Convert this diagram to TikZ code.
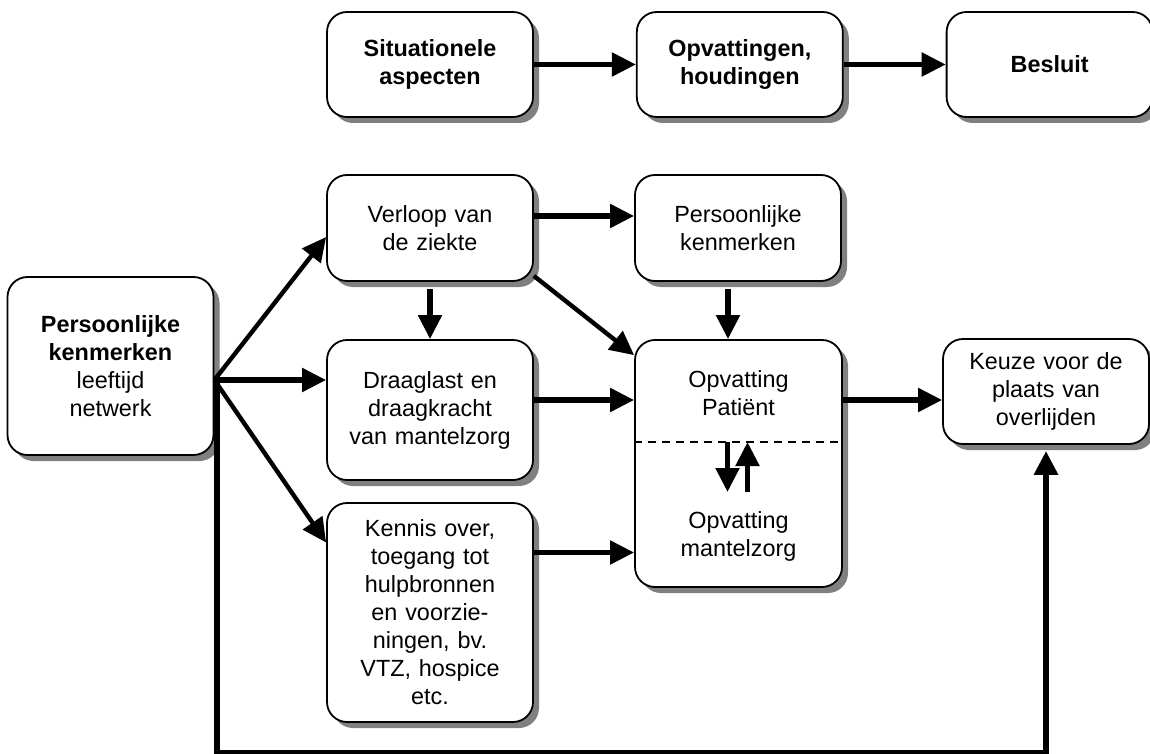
\documentclass[tikz,border=0pt]{standalone}
\usepackage{fontspec}
\setmainfont{Liberation Sans}
\usepackage{tikz}
\usetikzlibrary{arrows.meta, positioning, shadows, calc}

\begin{document}
\begin{tikzpicture}[x=0.5pt, y=-0.5pt,
					box/.style={rectangle, draw, line width=0.9pt, rounded corners=10pt, fill=white, inner sep=2pt, minimum width=103pt, text width=99pt, align=center, font=\fontsize{11.7}{14}\selectfont, drop shadow={shadow xshift=3pt, shadow yshift=-3pt, fill=black!50, opacity=1}},
					txt/.style={align=center, inner sep=0pt, font=\fontsize{11.7}{14}\selectfont},
					arrow/.style={-{Triangle[length=12pt, width=11.5pt]}, line width=2.6pt},
					slant/.style={arrow, line width=2.2pt}
				]
					\useasboundingbox (0,0) rectangle (1150,754);
					
					% Nodes
					\node[box, minimum height=52.5pt] (sit) at (430,64.5) {\textbf{Situationele}\\\textbf{aspecten}};
					\node[box, minimum height=52.5pt, right=51pt of sit] (opv) {\textbf{Opvattingen,}\\\textbf{houdingen}};
					\node[box, minimum height=52.5pt, right=51pt of opv] (bes) {\textbf{Besluit}};
					\node[box, minimum width=102.5pt, minimum height=89pt] (pk) at (110.5,366) {\textbf{Persoonlijke}\\\textbf{kenmerken}\\leeftijd\\netwerk};
					\node[box, minimum height=53pt] (verloop) at (430,228) {Verloop van\\de ziekte};
					\node[box, minimum height=53pt] (pk2) at (738,228) {Persoonlijke\\kenmerken};
					\node[box, minimum height=70pt] (draag) at (430,410) {Draaglast en\\draagkracht\\van mantelzorg};
					\node[box, minimum height=109.5pt] (kennis) at (430,612.5) {Kennis over,\\toegang tot\\hulpbronnen\\en voorzie-\\ningen, bv.\\VTZ, hospice\\etc.};
					\node[box, minimum width=103.5pt, minimum height=123.5pt] (opvat) at (738.5,463.5) {};
					\node[txt] (opvP) at (738.5,393) {Opvatting\\Patiënt};
					\node[txt] (opvM) at (738.5,536) {Opvatting\\mantelzorg};
					\node[box, minimum height=52.5pt] (keuze) at (1046,391.5) {Keuze voor de\\plaats van\\overlijden};
					
					% Helper points
					\coordinate (branch) at ([yshift=-7pt]pk.east);
					\coordinate (bottom) at (0,753);
					\coordinate (dash) at (0,442);
					\coordinate (turn) at (737.5,492);
					
					% Dashed divider
					\draw[dashed, line width=0.7pt, dash pattern=on 4pt off 3pt] (opvat.west |- dash) -- (opvat.east |- dash);
					
					% Arrows
					\draw[arrow] (sit) -- (opv);
					\draw[arrow] (opv) -- (bes);
					\draw[arrow] ([yshift=6pt]verloop.east) -- ([yshift=6pt]verloop.east -| pk2.west);
					\draw[arrow, shorten <=3.5pt] (verloop.south) -- (draag.north);
					\draw[slant] ([yshift=3pt]verloop.south east) -- ([yshift=-8pt]opvat.north west);
					\draw[arrow, shorten <=3.5pt] ([xshift=-5pt]pk2.south) -- ([xshift=-5pt]pk2.south |- opvat.north);
					\draw[arrow] ([yshift=5pt]draag.east) -- ([yshift=5pt]draag.east -| opvat.west);
					\draw[arrow] ([yshift=30pt]kennis.east) -- ([yshift=30pt]kennis.east -| opvat.west);
					\draw[arrow] ([yshift=5pt]draag.east -| opvat.east) -- ([yshift=5pt]draag.east -| keuze.west);
					\draw[slant] (branch) -- ([yshift=-4.5pt]verloop.west);
					\draw[arrow] (branch) -- (branch -| draag.west);
					\draw[slant] (branch) -- ([yshift=35pt]kennis.west);
					\draw[arrow, line width=3pt, shorten >=3pt] ([xshift=1.5pt]branch) -- ([xshift=1.5pt]branch |- bottom) -| (keuze.south);
					
					% Opvatting exchange
					\draw[arrow] ([xshift=-5pt]turn |- dash) -- ([xshift=-5pt]turn);
					\draw[arrow] ([xshift=5pt]turn) -- ([xshift=5pt]turn |- dash);
				\end{tikzpicture}
\end{document}
